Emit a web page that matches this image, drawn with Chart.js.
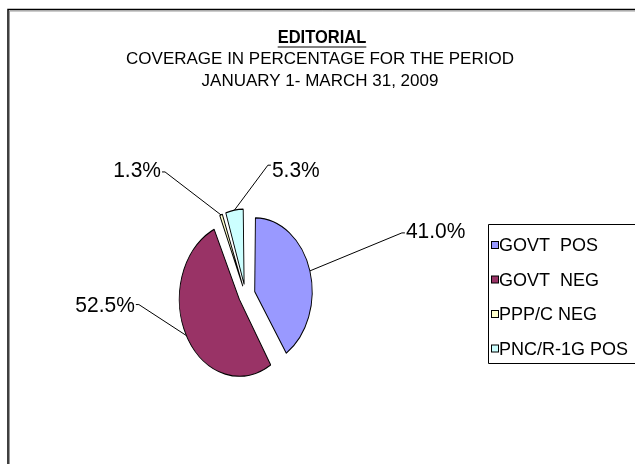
<!DOCTYPE html>
<html lang="en">
<head>
    <meta charset="UTF-8">
    <title>Editorial Coverage</title>
    <script src="https://cdn.jsdelivr.net/npm/chart.js"></script>
    <style>
        body { margin: 0; background: #fff; }
        canvas { display: block; }
    </style>
</head>
<body>
    <canvas id="coverageChart" width="635" height="464"></canvas>

    <script>
        // coverage shares, Jan 1 - Mar 31 2009
        var categories = ['GOVT  POS', 'GOVT  NEG', 'PPP/C NEG', 'PNC/R-1G POS'];
        var coverage = [41.0, 52.5, 1.3, 5.3];
        var sliceColors = ['#9999FF', '#993366', '#FFFFCC', '#CCFFFF'];

        var titleLines = ['EDITORIAL', 'COVERAGE IN PERCENTAGE FOR THE PERIOD', 'JANUARY 1- MARCH 31, 2009'];

        var FONT = '"Liberation Sans", Arial, sans-serif';
        var SQUASH = 0.78;    // pie is drawn narrower than tall
        var EXPLODE = 18;     // how far every slice is pulled out

        // leader line start relative to the slice edge, and text nudge
        var leaderNudge = [[92, -38], [-47.5, -31], [-56, -43], [33.5, -45]];
        var textDy = [-1, 1, -1, 6];

        // chart.js moves an arc by offset/4 * (1 + fix); solve for an equal pull-out
        function sliceOffset(ctx) {
            var total = coverage.reduce(function(a, b) { return a + b; }, 0);
            var circ = 2 * Math.PI * ctx.parsed / total;
            var fix = 1 - Math.sin(Math.min(Math.PI, circ));
            return 4 * EXPLODE / (1 + fix);
        }

        function edgePoint(arc) {
            var mid = (arc.startAngle + arc.endAngle) / 2;
            var circ = arc.endAngle - arc.startAngle;
            var fix = 1 - Math.sin(Math.min(Math.PI, circ));
            var d = arc.options.offset / 4 * (1 + fix) + arc.outerRadius;
            var px = arc.x + Math.cos(mid) * d;
            var py = arc.y + Math.sin(mid) * d;
            return { x: arc.x + (px - arc.x) * SQUASH, y: py };
        }

        var squashPie = {
            id: 'squashPie',
            beforeDatasetsDraw: function(chart) {
                var arc = chart.getDatasetMeta(0).data[0];
                var ctx = chart.ctx;
                ctx.save();
                ctx.translate(arc.x, 0);
                ctx.scale(SQUASH, 1);
                ctx.translate(-arc.x, 0);
            },
            afterDatasetsDraw: function(chart) {
                chart.ctx.restore();
            }
        };

        // text a little taller than wide, like the rest of the chart
        function tallText(ctx, text, x, y, sy) {
            ctx.save();
            ctx.translate(x, y);
            ctx.scale(1, sy);
            ctx.fillText(text, 0, 0);
            ctx.restore();
        }

        var decorations = {
            id: 'decorations',
            afterDraw: function(chart) {
                var ctx = chart.ctx;
                ctx.save();

                // frame
                ctx.strokeStyle = '#000';
                ctx.lineWidth = 1.5;
                ctx.beginPath();
                ctx.moveTo(8, 464);
                ctx.lineTo(8, 9.5);
                ctx.lineTo(635, 9.5);
                ctx.stroke();
                ctx.strokeStyle = '#999';
                ctx.lineWidth = 1;
                ctx.beginPath();
                ctx.moveTo(9.5, 464);
                ctx.lineTo(9.5, 11);
                ctx.lineTo(635, 11);
                ctx.stroke();

                // title
                ctx.fillStyle = '#000';
                ctx.textAlign = 'center';
                ctx.textBaseline = 'middle';
                ctx.font = 'bold 16.5px ' + FONT;
                tallText(ctx, titleLines[0], 322, 38, 1.1);
                var w = ctx.measureText(titleLines[0]).width;
                ctx.lineWidth = 1.2;
                ctx.strokeStyle = '#000';
                ctx.beginPath();
                ctx.moveTo(322 - w / 2, 47);
                ctx.lineTo(322 + w / 2, 47);
                ctx.stroke();
                ctx.font = '17px ' + FONT;
                ctx.fillText(titleLines[1], 320, 59);
                ctx.fillText(titleLines[2], 320, 81);

                // value labels with leader lines
                var arcs = chart.getDatasetMeta(0).data;
                ctx.font = '21px ' + FONT;
                ctx.lineWidth = 1;
                arcs.forEach(function(arc, i) {
                    var e = edgePoint(arc);
                    var sx = e.x + leaderNudge[i][0];
                    var sy = e.y + leaderNudge[i][1];
                    var dir = leaderNudge[i][0] > 0 ? 1 : -1;
                    ctx.beginPath();
                    ctx.moveTo(e.x, e.y);
                    ctx.lineTo(sx, sy);
                    ctx.lineTo(sx + dir * 3, sy);
                    ctx.stroke();
                    ctx.textAlign = dir > 0 ? 'left' : 'right';
                    tallText(ctx, coverage[i].toFixed(1) + '%', sx + dir * 4, sy + textDy[i], 1.08);
                });

                // legend box
                ctx.strokeStyle = '#000';
                ctx.beginPath();
                ctx.moveTo(640, 224.5);
                ctx.lineTo(488.5, 224.5);
                ctx.lineTo(488.5, 363.5);
                ctx.lineTo(640, 363.5);
                ctx.stroke();
                ctx.font = '18px ' + FONT;
                ctx.textAlign = 'left';
                categories.forEach(function(name, i) {
                    var cy = 245 + i * 34.5;
                    ctx.fillStyle = sliceColors[i];
                    ctx.fillRect(491.5, cy - 3.5, 7, 7);
                    ctx.strokeRect(491.5, cy - 3.5, 7, 7);
                    ctx.fillStyle = '#000';
                    tallText(ctx, name, 499, cy + 1, 1.05);
                });

                ctx.restore();
            }
        };

        new Chart(document.getElementById('coverageChart'), {
            type: 'pie',
            data: {
                labels: categories,
                datasets: [{
                    data: coverage,
                    backgroundColor: sliceColors,
                    borderColor: '#000',
                    borderWidth: 1.2,
                    offset: sliceOffset,
                    hoverOffset: 0
                }]
            },
            options: {
                responsive: false,
                animation: false,
                radius: 68,
                layout: { padding: { left: 126, right: 270, top: 175, bottom: 49 } },
                plugins: {
                    legend: { display: false },
                    title: { display: false },
                    tooltip: { enabled: false }
                }
            },
            plugins: [squashPie, decorations]
        });
    </script>
</body>
</html>
